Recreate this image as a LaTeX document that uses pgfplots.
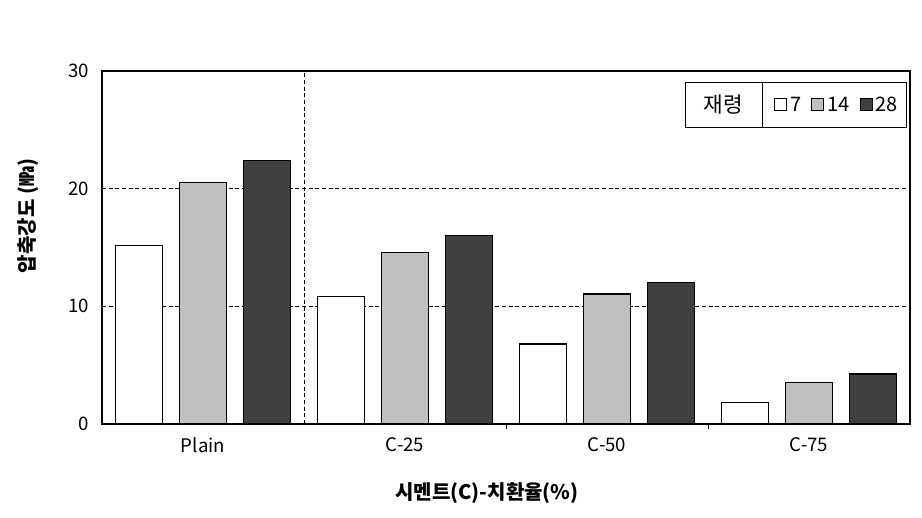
\documentclass[border=0pt]{standalone}
\usepackage{pgfplots}
\pgfplotsset{compat=1.18}
\usepackage{fontspec}
\setmainfont{Noto Sans CJK KR}
\usetikzlibrary{calc}
\definecolor{lg}{RGB}{191,191,191}
\definecolor{dg}{RGB}{64,64,64}
\begin{document}
\begin{tikzpicture}
\begin{axis}[
  name=ax,
  scale only axis,
  width=606pt, height=264.75pt,
  xmin=-0.5, xmax=3.5, ymin=0, ymax=30,
  xtick={0,1,2,3},
  xticklabels={Plain,C-25,C-50,C-75},
  extra x ticks={1.5,2.5},
  extra x tick labels={},
  extra x tick style={major tick length=4pt, tick style={black, line width=0.6pt}, tick pos=bottom},
  ytick={0,10,20,30},
  major tick length=0pt,
  tick align=inside,
  axis line style={line width=1.5pt},
  ymajorgrids,
  grid style={densely dashed, black, line width=0.5pt},
  /pgf/number format/assume math mode=true,
  tick label style={font=\fontsize{14}{16}\selectfont},
  yticklabel style={xshift=-6pt},
  xticklabel style={yshift=-7pt},
  xlabel={\bfseries 시멘트(C)-치환율(\%)},
  ylabel={\bfseries 압축강도 (㎫)},
  xlabel style={font=\fontsize{15}{17}\selectfont, at={(axis description cs:0.4765,-0.195)}, anchor=center},
  ylabel style={font=\fontsize{15}{17}\selectfont, at={(axis description cs:-0.0916,0.589)}, anchor=center, rotate=0},
  ybar, bar width=0.233,
  legend columns=3,
  legend style={at={(0.9105,0.904)}, anchor=center, draw=none, fill=none,
    font=\fontsize{15}{17}\selectfont,
    nodes={inner xsep=2.5pt},
    /tikz/every even column/.append style={column sep=5pt}},
  legend image code/.code={\draw[#1, line width=0.6pt] (0pt,-4.5pt) rectangle (9pt,4.5pt);},
]
\addplot+[bar shift=-0.317, draw=black, fill=white, line width=0.8pt] coordinates {(0,15.2) (1,10.8) (2,6.8) (3,1.8)};
\addplot+[bar shift=0, draw=black, fill=lg, line width=0.8pt] coordinates {(0,20.55) (1,14.6) (2,11.05) (3,3.5)};
\addplot+[bar shift=0.317, draw=black, fill=dg, line width=0.8pt] coordinates {(0,22.4) (1,16.0) (2,12.05) (3,4.25)};
\legend{7,14,28}
\draw[densely dashed, line width=0.5pt] (axis cs:0.5,0) -- (axis cs:0.5,30);
\draw[line width=0.6pt] (axis description cs:0.7215,0.839) rectangle (axis description cs:0.995,0.969);
\draw[line width=0.6pt] (axis description cs:0.817,0.839) -- (axis description cs:0.817,0.969);
\node[font=\fontsize{16}{18}\selectfont] at (axis description cs:0.769,0.904) {재령};
\end{axis}
\path ($(ax.south west)+(-76.5pt,-70.5pt)$) rectangle ($(ax.north east)+(9pt,53.25pt)$);
\end{tikzpicture}
\end{document}
